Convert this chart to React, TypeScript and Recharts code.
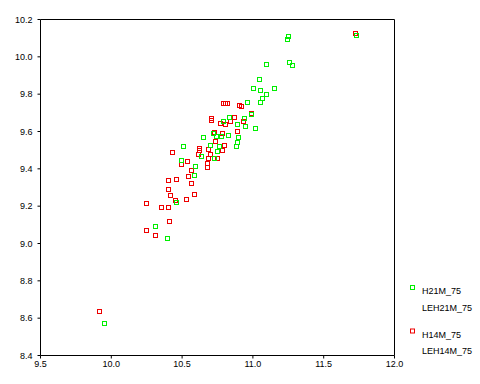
import { ReferenceLine, Scatter, ScatterChart, XAxis, YAxis } from "recharts";

const h21mX = [
  9.949, 11.73, 11.25, 11.243, 11.094, 11.257, 11.278, 11.045, 11.002, 11.052,
  11.151, 11.094, 11.066, 10.96, 11.052, 10.988, 11.017, 10.833, 10.79, 10.939,
  10.889, 10.946, 10.72, 10.826, 10.649, 10.741, 10.776, 10.896, 10.889, 10.882,
  10.699, 10.762, 10.508, 10.748, 10.635, 10.727, 10.494, 10.593, 10.586, 10.458,
  10.31, 10.395,
];
const h21mY = [
  8.57, 10.114, 10.109, 10.093, 9.959, 9.969, 9.953, 9.878, 9.83, 9.819,
  9.83, 9.798, 9.776, 9.755, 9.755, 9.691, 9.616, 9.675, 9.653, 9.669,
  9.637, 9.626, 9.589, 9.578, 9.567, 9.573, 9.573, 9.567, 9.54, 9.519,
  9.524, 9.519, 9.519, 9.492, 9.465, 9.455, 9.444, 9.412, 9.364, 9.219,
  9.09, 9.026,
];

const h14mX = [
  9.914, 11.723, 10.79, 10.805, 10.819, 10.904, 10.918, 10.988, 10.706, 10.706,
  10.868, 10.84, 10.769, 10.805, 10.932, 10.889, 10.727, 10.783, 10.734, 10.798,
  10.621, 10.621, 10.684, 10.783, 10.43, 10.614, 10.699, 10.684, 10.748, 10.536,
  10.494, 10.677, 10.677, 10.564, 10.543, 10.458, 10.402, 10.564, 10.402, 10.416,
  10.586, 10.451, 10.529, 10.246, 10.352, 10.402, 10.409, 10.246, 10.31,
];
const h14mY = [
  8.634, 10.125, 9.75, 9.75, 9.75, 9.739, 9.734, 9.696, 9.669, 9.658,
  9.675, 9.653, 9.642, 9.637, 9.653, 9.599, 9.594, 9.589, 9.546, 9.524,
  9.508, 9.498, 9.503, 9.498, 9.487, 9.476, 9.476, 9.455, 9.455, 9.439,
  9.423, 9.428, 9.406, 9.39, 9.358, 9.342, 9.337, 9.321, 9.288, 9.256,
  9.262, 9.229, 9.235, 9.213, 9.192, 9.192, 9.117, 9.069, 9.042,
];

const xTicks = [9.5, 10.0, 10.5, 11.0, 11.5, 12.0];
const yTicks = [8.4, 8.6, 8.8, 9.0, 9.2, 9.4, 9.6, 9.8, 10.0, 10.2];

const legendItems = [
  { name: "H21M_75", color: "#00ee00", marker: true },
  { name: "LEH21M_75", color: "", marker: false },
  { name: "H14M_75", color: "#ee0000", marker: true },
  { name: "LEH14M_75", color: "", marker: false },
];

const FONT = "'Liberation Sans', Arial, sans-serif";

const h21m = h21mX.map((x, i) => ({ x, y: h21mY[i] }));
const h14m = h14mX.map((x, i) => ({ x, y: h14mY[i] }));

function squareShape(color: string) {
  return (props: any) => {
    const { cx, cy } = props;
    if (cx == null || cy == null) return <g />;
    return (
      <rect
        x={Math.floor(cx) - 1.5}
        y={Math.floor(cy) - 1.5}
        width={4}
        height={4}
        fill="none"
        stroke={color}
        strokeWidth={1}
      />
    );
  };
}

const tickStyle = { fontSize: 9, fill: "#000", fontFamily: FONT };

export default function App() {
  const legendBaselines = [294, 311, 337.5, 354];
  return (
    <div style={{ position: "absolute", left: 0, top: 0, width: 480, height: 384, background: "#fff" }}>
      <ScatterChart
        width={480}
        height={384}
        margin={{ top: 19.5, right: 85.5, bottom: 8.5, left: 6.5 }}
      >
        <XAxis
          type="number"
          dataKey="x"
          domain={[9.5, 12]}
          ticks={xTicks}
          tickFormatter={(v: number) => v.toFixed(1)}
          tickLine={{ stroke: "#000" }}
          tickSize={3}
          tickMargin={2}
          height={20}
          stroke="#000"
          tick={tickStyle}
          allowDataOverflow
        />
        <YAxis
          type="number"
          dataKey="y"
          domain={[8.4, 10.2]}
          ticks={yTicks}
          tickFormatter={(v: number) => v.toFixed(1)}
          tickLine={{ stroke: "#000" }}
          tickSize={3}
          tickMargin={5}
          width={34}
          stroke="#000"
          tick={tickStyle}
          allowDataOverflow
        />
        <ReferenceLine y={10.2} stroke="#000" />
        <ReferenceLine x={12} stroke="#000" />
        <Scatter
          name="H14M_75"
          data={h14m}
          shape={squareShape("#ee0000")}
          isAnimationActive={false}
        />
        <Scatter
          name="H21M_75"
          data={h21m}
          shape={squareShape("#00ee00")}
          isAnimationActive={false}
        />
      </ScatterChart>
      <svg
        width={480}
        height={384}
        style={{ position: "absolute", left: 0, top: 0, pointerEvents: "none" }}
      >
        {legendItems.map((item, i) => (
          <g key={item.name}>
            {item.marker && (
              <rect
                x={410.5}
                y={legendBaselines[i] - 8.5}
                width={4}
                height={4}
                fill="none"
                stroke={item.color}
              />
            )}
            <text x={422} y={legendBaselines[i]} fontSize={9} fontFamily={FONT} fill="#000">
              {item.name}
            </text>
          </g>
        ))}
      </svg>
    </div>
  );
}
